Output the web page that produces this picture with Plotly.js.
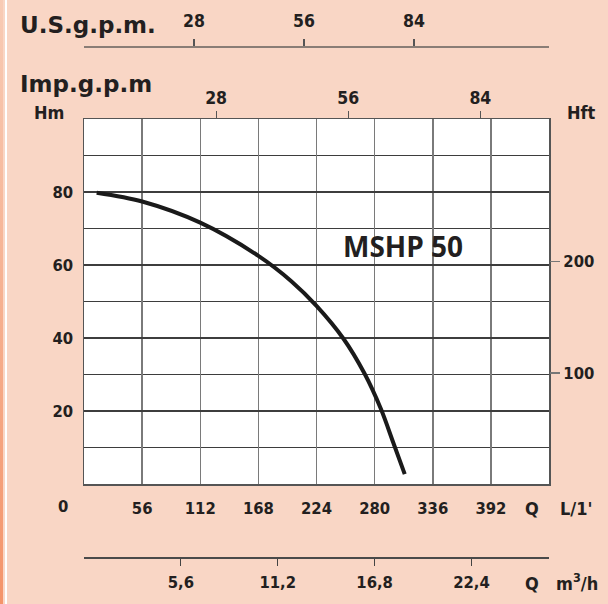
<!DOCTYPE html>
<html>
<head>
<meta charset="utf-8">
<script src="https://cdn.plot.ly/plotly-3.0.1.min.js"></script>
<style>
  html, body { margin: 0; padding: 0; background: #f9d6c5; }
  #wrap { position: relative; width: 608px; height: 604px; }
  #chart { position: absolute; left: 0; top: 0; width: 608px; height: 604px; }
  #stripe { position: absolute; left: 0; top: 0; width: 3px; height: 604px;
            background: linear-gradient(to bottom, #f8cbb5 0%, #f6b394 45%, #f4946a 100%); }
  #white { position: absolute; left: 5px; top: 0; width: 2px; height: 604px; background: #ffffff; }
</style>
</head>
<body>
<div id="wrap">
  <div id="chart"></div>
  <div id="stripe"></div>
  <div id="white"></div>
</div>
<script>
// ---- data ----
const flowLmin = [12.2, 56, 112, 168, 200, 224, 250, 270, 286, 298, 309]; // L/1'
const headM    = [79.8, 77.4, 71.6, 62.5, 55.5, 48.8, 39.8, 30.4, 20.6, 11.3, 2.7]; // Hm
const lminTicks = [56, 112, 168, 224, 280, 336, 392];
const hmTicks = [20, 40, 60, 80];
const hmMinorGrid = [10, 30, 50, 70, 90];
const hftTicks = [100, 200];
const impTicks = [28, 56, 84];
const usTicks = [28, 56, 84];
const m3hTicks = [5.6, 11.2, 16.8, 22.4];
const m3hLabels = ['5,6', '11,2', '16,8', '22,4'];
const modelName = 'MSHP 50';

// axis extents / unit conversions
const QMAX = 448;               // L/min at right edge
const HMAX = 100;               // m at top edge
const L_PER_IMPGAL = 4.54609;
const L_PER_USGAL = 3.78541;
const M_PER_FT = 0.3048;

const cond = '"DejaVu Sans Condensed", "Liberation Sans Narrow", "Roboto Condensed", "Arial Narrow", sans-serif';
const txt = '#231f20';
const tickFont = { family: cond, size: 16.5, color: txt, weight: 'bold' };

// pixel helpers for annotation placement (margins l=84 r=59 t=20 b=20)
const L = 84, W = 465, T = 20, H = 564;
const px = x => (x - L) / W;
const py = y => (T + H - y) / H;

const traces = [
  { x: flowLmin, y: headM, type: 'scatter', mode: 'lines',
    line: { color: '#1a1a1a', width: 4, shape: 'spline', smoothing: 0.9 },
    hoverinfo: 'skip', showlegend: false, xaxis: 'x', yaxis: 'y' },
  { x: [], y: [], type: 'scatter', mode: 'lines', xaxis: 'x', yaxis: 'y2', showlegend: false, hoverinfo: 'skip' },
  { x: [], y: [], type: 'scatter', mode: 'lines', xaxis: 'x2', yaxis: 'y', showlegend: false, hoverinfo: 'skip' },
  { x: [], y: [], type: 'scatter', mode: 'lines', xaxis: 'x3', yaxis: 'y', showlegend: false, hoverinfo: 'skip' },
  { x: [], y: [], type: 'scatter', mode: 'lines', xaxis: 'x4', yaxis: 'y', showlegend: false, hoverinfo: 'skip' }
];

const yDomain = [py(484), py(119)];

const layout = {
  width: 608, height: 604,
  margin: { l: L, r: 59, t: T, b: 20, pad: 0 },
  paper_bgcolor: 'rgba(0,0,0,0)',
  plot_bgcolor: '#ffffff',
  showlegend: false,
  font: { family: cond, color: txt },
  xaxis: {
    domain: [0, 1], range: [0, QMAX], autorange: false, anchor: 'y',
    tickmode: 'array', tickvals: lminTicks, ticktext: lminTicks.map(String),
    ticks: 'outside', ticklen: 9, tickcolor: 'rgba(0,0,0,0)',
    tickfont: tickFont,
    showgrid: true, gridcolor: '#7a7a7a', gridwidth: 1.5,
    showline: true, mirror: true, linecolor: '#555555', linewidth: 1.5,
    zeroline: false, fixedrange: true
  },
  yaxis: {
    domain: yDomain, range: [0, HMAX], autorange: false, anchor: 'x',
    tickmode: 'array', tickvals: hmTicks, ticktext: hmTicks.map(String),
    ticks: 'outside', ticklen: 6, tickcolor: 'rgba(0,0,0,0)',
    tickfont: tickFont,
    showgrid: true, gridcolor: '#3d3d3d', gridwidth: 1.2,
    minor: { tickmode: 'array', tickvals: hmMinorGrid, showgrid: true, gridcolor: '#3d3d3d', gridwidth: 1.2, ticks: '' },
    showline: true, mirror: true, linecolor: '#555555', linewidth: 1.5,
    zeroline: false, fixedrange: true
  },
  yaxis2: {
    overlaying: 'y', side: 'right', anchor: 'x',
    range: [0, HMAX / M_PER_FT], autorange: false,
    tickmode: 'array', tickvals: hftTicks, ticktext: hftTicks.map(String),
    ticks: 'outside', ticklen: 10, tickwidth: 1.5, tickcolor: '#777777',
    tickfont: tickFont,
    showgrid: false, zeroline: false, showline: false, fixedrange: true
  },
  xaxis2: {
    overlaying: 'x', side: 'top', anchor: 'y',
    range: [0, QMAX / L_PER_IMPGAL], autorange: false,
    tickmode: 'array', tickvals: impTicks, ticktext: impTicks.map(String),
    ticks: 'outside', ticklen: 7, tickwidth: 1.2, tickcolor: '#555555',
    tickfont: { family: cond, size: 17.5, color: txt, weight: 'bold' },
    showgrid: false, zeroline: false, showline: false, fixedrange: true
  },
  xaxis3: {
    overlaying: 'x', side: 'top', anchor: 'free', position: py(47),
    range: [0, QMAX / L_PER_USGAL], autorange: false,
    tickmode: 'array', tickvals: usTicks, ticktext: usTicks.map(String),
    ticks: 'outside', ticklen: 7, tickwidth: 1.2, tickcolor: '#555555',
    ticklabelstandoff: 5,
    tickfont: { family: cond, size: 17.5, color: txt, weight: 'bold' },
    showline: true, linecolor: '#8a7d76', linewidth: 2,
    showgrid: false, zeroline: false, fixedrange: true
  },
  xaxis4: {
    overlaying: 'x', side: 'bottom', anchor: 'free', position: py(557),
    range: [0, QMAX * 0.06], autorange: false,
    tickmode: 'array', tickvals: m3hTicks, ticktext: m3hLabels,
    ticks: 'outside', ticklen: 7, tickwidth: 1.2, tickcolor: '#444444',
    ticklabelstandoff: 3,
    tickfont: tickFont,
    showline: true, linecolor: '#4a4a4a', linewidth: 1.5,
    showgrid: false, zeroline: false, fixedrange: true
  },
  annotations: [
    { text: 'U.S.g.p.m.', xref: 'paper', yref: 'paper', x: px(18), y: py(25), xanchor: 'left', yanchor: 'middle',
      showarrow: false, font: { family: '"DejaVu Sans", Verdana, sans-serif', size: 23, color: txt, weight: 'bold' } },
    { text: 'Imp.g.p.m', xref: 'paper', yref: 'paper', x: px(18), y: py(84), xanchor: 'left', yanchor: 'middle',
      showarrow: false, font: { family: '"DejaVu Sans", Verdana, sans-serif', size: 23, color: txt, weight: 'bold' } },
    { text: 'Hm', xref: 'paper', yref: 'paper', x: px(49), y: py(112), xanchor: 'center', yanchor: 'middle',
      showarrow: false, font: { family: cond, size: 18, color: txt, weight: 'bold' } },
    { text: 'Hft', xref: 'paper', yref: 'paper', x: px(581), y: py(112), xanchor: 'center', yanchor: 'middle',
      showarrow: false, font: { family: cond, size: 18, color: txt, weight: 'bold' } },
    { text: '0', xref: 'paper', yref: 'paper', x: px(63), y: py(507), xanchor: 'center', yanchor: 'middle',
      showarrow: false, font: tickFont },
    { text: 'Q', xref: 'paper', yref: 'paper', x: px(532), y: py(508), xanchor: 'center', yanchor: 'middle',
      showarrow: false, font: { family: cond, size: 18, color: txt, weight: 'bold' } },
    { text: "L/1'", xref: 'paper', yref: 'paper', x: px(576), y: py(508), xanchor: 'center', yanchor: 'middle',
      showarrow: false, font: { family: cond, size: 18, color: txt, weight: 'bold' } },
    { text: 'Q', xref: 'paper', yref: 'paper', x: px(532), y: py(583), xanchor: 'center', yanchor: 'middle',
      showarrow: false, font: { family: cond, size: 18, color: txt, weight: 'bold' } },
    { text: 'm<sup>3</sup>/h', xref: 'paper', yref: 'paper', x: px(577), y: py(582), xanchor: 'center', yanchor: 'middle',
      showarrow: false, font: { family: cond, size: 18, color: txt, weight: 'bold' } },
    { text: modelName, xref: 'paper', yref: 'paper', x: px(403), y: py(246), xanchor: 'center', yanchor: 'middle',
      showarrow: false, font: { family: '"Open Sans", sans-serif', size: 28, color: txt, weight: 'bold' } }
  ]
};

Plotly.newPlot('chart', traces, layout, { staticPlot: true, displayModeBar: false });
</script>
</body>
</html>
